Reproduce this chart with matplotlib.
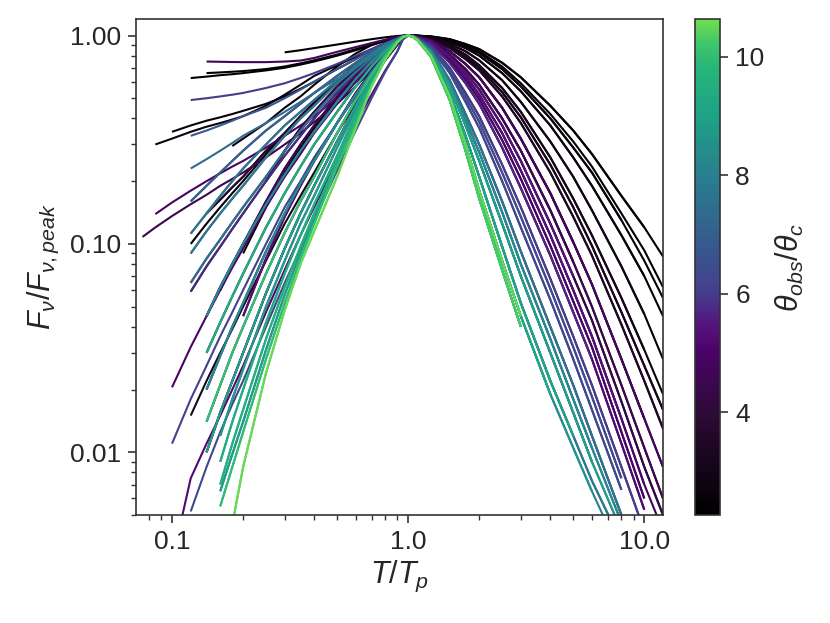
import numpy as np
import matplotlib
matplotlib.use('Agg')
import matplotlib.pyplot as plt
from matplotlib.colors import LinearSegmentedColormap, Normalize
from matplotlib.cm import ScalarMappable
from matplotlib.ticker import FixedLocator, NullFormatter, LogLocator

n = np.nan

rise_x = [0.075, 0.085, 0.1, 0.12, 0.14, 0.16, 0.18, 0.2, 0.25, 0.3, 0.35, 0.4, 0.5, 0.6, 0.7, 0.8, 0.9, 0.95, 1.0]

r_flat_black = [n, n, n, n, n, n, n, n, n, 0.83, 0.85, 0.87, 0.905, 0.935, 0.96, 0.98, 0.995, 0.999, 1]
r_flat_purple = [n, n, n, n, 0.75, 0.748, 0.746, 0.745, 0.745, 0.75, 0.758, 0.78, 0.835, 0.88, 0.92, 0.955, 0.985, 0.9964, 1]
r_black_a = [n, n, n, 0.625, 0.635, 0.645, 0.652, 0.66, 0.68, 0.70, 0.725, 0.75, 0.80, 0.85, 0.90, 0.94, 0.975, 0.994, 1]
r_black_b = [n, n, n, n, 0.66, 0.665, 0.67, 0.675, 0.69, 0.71, 0.735, 0.76, 0.81, 0.86, 0.905, 0.945, 0.978, 0.9947, 1]
r_bluepurple_flat = [n, n, n, 0.49, 0.50, 0.51, 0.52, 0.53, 0.56, 0.59, 0.625, 0.66, 0.73, 0.80, 0.86, 0.92, 0.97, 0.9928, 1]
r_dark_a = [n, 0.30, 0.32, 0.345, 0.365, 0.38, 0.395, 0.41, 0.46, 0.52, 0.58, 0.64, 0.72, 0.79, 0.86, 0.92, 0.97, 0.9928, 1]
r_dark_b = [n, n, 0.345, 0.37, 0.39, 0.405, 0.42, 0.435, 0.47, 0.51, 0.555, 0.60, 0.69, 0.77, 0.85, 0.91, 0.965, 0.9916, 1]
r_teal_mid = [n, n, n, 0.23, 0.255, 0.28, 0.305, 0.33, 0.38, 0.43, 0.48, 0.53, 0.62, 0.71, 0.79, 0.87, 0.94, 0.9855, 1]
r_bluish = [n, n, n, 0.33, 0.35, 0.37, 0.39, 0.41, 0.45, 0.50, 0.55, 0.60, 0.69, 0.77, 0.85, 0.91, 0.965, 0.9916, 1]
r_purple_long_a = [0.108, 0.12, 0.136, 0.155, 0.172, 0.19, 0.205, 0.22, 0.26, 0.30, 0.34, 0.385, 0.47, 0.57, 0.68, 0.80, 0.91, 0.978, 1]
r_purple_long_b = [n, 0.139, 0.158, 0.18, 0.20, 0.218, 0.235, 0.25, 0.29, 0.33, 0.37, 0.41, 0.50, 0.60, 0.70, 0.81, 0.91, 0.978, 1]
r_black_steep = [n, n, n, n, 0.14, 0.163, 0.187, 0.21, 0.28, 0.34, 0.41, 0.47, 0.60, 0.72, 0.82, 0.90, 0.96, 0.9904, 1]
r_black_late = [n, n, n, n, n, n, 0.295, 0.32, 0.38, 0.45, 0.51, 0.58, 0.71, 0.82, 0.90, 0.95, 0.985, 0.9964, 1]
r_black_band = [n, n, n, n, n, n, n, 0.09, 0.15, 0.22, 0.29, 0.36, 0.50, 0.64, 0.76, 0.87, 0.95, 0.988, 1]
r_black_mid = [n, n, n, 0.10, 0.125, 0.15, 0.175, 0.20, 0.27, 0.34, 0.41, 0.48, 0.61, 0.73, 0.83, 0.91, 0.965, 0.9916, 1]
r_dark_mid = [n, n, n, 0.059, 0.078, 0.097, 0.118, 0.14, 0.20, 0.265, 0.33, 0.40, 0.53, 0.66, 0.77, 0.87, 0.95, 0.988, 1]
r_dark_low = [n, n, n, 0.015, 0.022, 0.03, 0.039, 0.05, 0.083, 0.125, 0.17, 0.22, 0.34, 0.47, 0.61, 0.76, 0.90, 0.975, 1]
r_purple_low = [n, n, 0.0205, 0.032, 0.045, 0.06, 0.077, 0.095, 0.15, 0.21, 0.27, 0.34, 0.47, 0.60, 0.72, 0.84, 0.935, 0.984, 1]
r_blue_low = [n, n, 0.011, 0.018, 0.026, 0.036, 0.047, 0.06, 0.10, 0.15, 0.20, 0.26, 0.38, 0.51, 0.65, 0.78, 0.91, 0.978, 1]
r_purple_floor = [n, n, 0.003, 0.0075, 0.011, 0.015, 0.02, 0.026, 0.047, 0.075, 0.11, 0.15, 0.25, 0.38, 0.52, 0.68, 0.84, 0.959, 1]
r_blue_floor = [n, n, n, 0.0052, 0.0085, 0.0125, 0.017, 0.022, 0.04, 0.065, 0.095, 0.13, 0.225, 0.35, 0.50, 0.67, 0.84, 0.959, 1]
r_band_a = [n, n, n, n, n, 0.06, 0.08, 0.10, 0.16, 0.23, 0.30, 0.37, 0.51, 0.645, 0.77, 0.875, 0.955, 0.989, 1]
r_band_b = [n, n, n, n, n, n, n, 0.045, 0.085, 0.135, 0.19, 0.25, 0.38, 0.53, 0.675, 0.815, 0.935, 0.984, 1]
r_band_c = [n, n, n, n, n, n, n, n, 0.20, 0.28, 0.36, 0.43, 0.57, 0.69, 0.80, 0.89, 0.96, 0.9904, 1]
r_teal_a = [n, n, n, 0.065, 0.085, 0.105, 0.127, 0.15, 0.21, 0.28, 0.35, 0.42, 0.55, 0.67, 0.78, 0.88, 0.95, 0.988, 1]
r_teal_b = [n, n, n, 0.09, 0.115, 0.14, 0.165, 0.19, 0.26, 0.33, 0.40, 0.46, 0.59, 0.70, 0.80, 0.89, 0.955, 0.989, 1]
r_teal_c = [n, n, n, 0.16, 0.19, 0.22, 0.25, 0.28, 0.35, 0.41, 0.47, 0.53, 0.64, 0.74, 0.83, 0.91, 0.965, 0.9916, 1]
r_teal_h = [n, n, n, 0.112, 0.14, 0.17, 0.20, 0.23, 0.30, 0.37, 0.43, 0.49, 0.61, 0.72, 0.815, 0.90, 0.96, 0.9904, 1]
r_teal_l = [n, n, n, n, 0.045, 0.062, 0.08, 0.10, 0.155, 0.215, 0.28, 0.345, 0.48, 0.62, 0.75, 0.86, 0.95, 0.988, 1]
r_teal_d = [n, n, n, n, 0.03, 0.042, 0.056, 0.072, 0.12, 0.175, 0.235, 0.30, 0.43, 0.57, 0.71, 0.84, 0.945, 0.9867, 1]
r_teal_j = [n, n, n, n, 0.02, 0.029, 0.04, 0.052, 0.092, 0.14, 0.195, 0.25, 0.38, 0.52, 0.665, 0.81, 0.93, 0.983, 1]
r_teal_e = [n, n, n, n, 0.014, 0.021, 0.03, 0.04, 0.072, 0.113, 0.16, 0.21, 0.34, 0.49, 0.65, 0.80, 0.94, 0.9855, 1]
r_teal_m = [n, n, n, n, 0.01, 0.0155, 0.022, 0.03, 0.058, 0.095, 0.14, 0.19, 0.31, 0.46, 0.63, 0.79, 0.935, 0.984, 1]
r_teal_f = [n, n, n, n, n, 0.012, 0.018, 0.025, 0.05, 0.083, 0.125, 0.17, 0.29, 0.44, 0.61, 0.78, 0.935, 0.984, 1]
r_teal_k = [n, n, n, n, n, 0.009, 0.014, 0.02, 0.042, 0.072, 0.11, 0.155, 0.265, 0.42, 0.60, 0.775, 0.93, 0.983, 1]
r_teal_g = [n, n, n, n, n, 0.007, 0.011, 0.016, 0.035, 0.062, 0.097, 0.14, 0.25, 0.40, 0.59, 0.775, 0.93, 0.983, 1]
r_green_c = [n, n, n, n, n, 0.0065, 0.0098, 0.014, 0.031, 0.057, 0.091, 0.133, 0.245, 0.39, 0.585, 0.772, 0.93, 0.983, 1]
r_green_a = [n, n, n, n, n, 0.0055, 0.0085, 0.0125, 0.028, 0.052, 0.085, 0.125, 0.235, 0.38, 0.58, 0.77, 0.93, 0.983, 1]
r_green_b = [n, n, n, n, n, n, 0.0045, 0.0085, 0.024, 0.048, 0.08, 0.115, 0.21, 0.36, 0.57, 0.77, 0.93, 0.983, 1]

# decay side
decay_x = [1.0, 1.05, 1.1, 1.25, 1.5, 1.75, 2.0, 2.5, 3.0, 4.0, 5.0, 6.0, 8.0, 10.0, 12.0]

d_black_a = [1, 0.9995, 0.998, 0.99, 0.96, 0.91, 0.86, 0.74, 0.63, 0.46, 0.35, 0.27, 0.17, 0.12, 0.087]
d_black_b = [1, 0.9992, 0.997, 0.985, 0.95, 0.895, 0.84, 0.71, 0.59, 0.42, 0.31, 0.235, 0.14, 0.093, 0.062]
d_black_e = [1, 0.999, 0.996, 0.985, 0.945, 0.885, 0.825, 0.69, 0.57, 0.40, 0.29, 0.22, 0.13, 0.083, 0.055]
d_black_c = [1, 0.9987, 0.995, 0.98, 0.93, 0.87, 0.80, 0.66, 0.54, 0.37, 0.26, 0.19, 0.11, 0.07, 0.045]
d_black_d = [1, 0.9984, 0.994, 0.975, 0.91, 0.84, 0.76, 0.61, 0.48, 0.31, 0.21, 0.145, 0.078, 0.046, 0.028]
d_dark_a = [1, 0.9974, 0.99, 0.97, 0.89, 0.81, 0.72, 0.56, 0.43, 0.26, 0.165, 0.11, 0.055, 0.031, 0.019]
d_dark_d = [1, 0.9974, 0.99, 0.965, 0.88, 0.79, 0.70, 0.535, 0.405, 0.24, 0.15, 0.098, 0.047, 0.026, 0.016]
d_dark_b = [1, 0.9974, 0.99, 0.96, 0.87, 0.77, 0.68, 0.51, 0.38, 0.22, 0.135, 0.088, 0.041, 0.022, 0.013]
d_dark_c = [1, 0.996, 0.985, 0.95, 0.84, 0.73, 0.63, 0.45, 0.32, 0.175, 0.102, 0.064, 0.028, 0.0145, 0.0085]
d_purple_a = [1, 0.9947, 0.98, 0.94, 0.81, 0.69, 0.58, 0.40, 0.28, 0.145, 0.082, 0.05, 0.021, 0.0105, 0.006]
d_purple_d = [1, 0.9952, 0.982, 0.935, 0.795, 0.665, 0.55, 0.37, 0.25, 0.125, 0.07, 0.043, 0.0175, 0.0085, 0.005]
d_purple_b = [1, 0.9947, 0.98, 0.93, 0.78, 0.64, 0.52, 0.34, 0.225, 0.11, 0.06, 0.036, 0.0145, 0.007, 0.0042]
d_purple_e = [1, 0.9942, 0.978, 0.92, 0.76, 0.615, 0.495, 0.315, 0.205, 0.098, 0.053, 0.032, 0.0125, 0.006, n]
d_purple_c = [1, 0.9934, 0.975, 0.91, 0.74, 0.59, 0.47, 0.29, 0.185, 0.088, 0.047, 0.028, 0.011, 0.0053, n]
d_blue_a = [1, 0.992, 0.97, 0.89, 0.70, 0.53, 0.41, 0.24, 0.15, 0.068, 0.036, 0.021, 0.0085, 0.0042, n]
d_blue_d = [1, 0.9915, 0.968, 0.88, 0.68, 0.505, 0.385, 0.22, 0.135, 0.061, 0.032, 0.0185, 0.0075, n, n]
d_blue_b = [1, 0.9907, 0.965, 0.87, 0.66, 0.48, 0.36, 0.20, 0.12, 0.054, 0.028, 0.016, 0.0066, n, n]
d_blue_c = [1, 0.9894, 0.96, 0.85, 0.61, 0.42, 0.30, 0.16, 0.092, 0.04, 0.021, 0.012, 0.005, n, n]
d_teal_d = [1, 0.9888, 0.958, 0.84, 0.59, 0.395, 0.275, 0.142, 0.08, 0.035, 0.018, 0.0105, 0.0046, n, n]
d_teal_a = [1, 0.988, 0.955, 0.83, 0.57, 0.37, 0.25, 0.125, 0.07, 0.03, 0.0155, 0.009, 0.0042, n, n]
d_teal_b = [1, 0.9866, 0.95, 0.81, 0.53, 0.33, 0.21, 0.097, 0.052, 0.022, 0.012, 0.0073, 0.0037, n, n]
d_teal_c = [1, 0.9866, 0.95, 0.80, 0.51, 0.30, 0.18, 0.083, 0.045, 0.019, 0.0105, 0.0065, 0.0032, n, n]
d_green = [1, 0.9852, 0.945, 0.79, 0.49, 0.28, 0.165, 0.075, 0.04, n, n, n, n, n, n]

# one row per light curve: theta_obs/theta_c, rise, decay, last T/Tp
curve_theta = [2.30, 2.35, 2.40, 2.45, 2.50, 2.55, 2.60, 2.70, 2.80, 2.95,
               3.10, 3.30, 3.50, 3.70, 3.90, 4.10, 4.30, 4.50, 4.70, 4.85,
               5.00, 5.10, 5.20, 5.35, 5.50, 5.70, 6.00, 6.10, 6.30, 6.50,
               6.80, 7.00, 7.20, 7.40, 7.60, 7.80, 8.00, 8.20, 8.40, 8.60,
               8.80, 9.00, 9.20, 9.40, 9.60, 9.80, 10.00, 10.30, 10.55,
               2.42, 2.65, 3.20, 3.80, 4.20, 4.60, 4.90, 5.40, 5.80, 6.40,
               7.10, 7.70, 8.30, 8.90, 9.10, 9.50, 10.10]
curve_rise = [r_flat_black, r_black_a, r_black_b, r_black_steep, r_black_late, r_black_band, r_dark_b, r_band_c, r_dark_a, r_band_a,
              r_dark_mid, r_dark_low, r_band_b, r_teal_a, r_teal_j, r_teal_d, r_band_c, r_purple_long_a, r_flat_purple, r_purple_long_b,
              r_purple_low, r_teal_e, r_purple_floor, r_band_b, r_teal_b, r_teal_h, r_bluepurple_flat, r_blue_low, r_blue_floor, r_teal_j,
              r_bluish, r_teal_f, r_teal_c, r_teal_mid, r_teal_a, r_teal_h, r_teal_b, r_teal_d, r_teal_j, r_teal_e,
              r_teal_f, r_teal_k, r_teal_g, r_teal_k, r_teal_g, r_green_a, r_green_a, r_green_b, r_green_b,
              r_black_mid, r_teal_l, r_teal_m, r_black_steep, r_teal_l, r_band_a, r_teal_m, r_teal_c, r_dark_mid, r_teal_l,
              r_teal_m, r_green_c, r_teal_l, r_green_c, r_teal_m, r_teal_d, r_teal_e]
curve_decay = [d_black_a, d_black_b, d_black_e, d_black_c, d_black_d, d_dark_a, d_black_e, d_black_c, d_dark_b, d_black_d,
               d_dark_a, d_dark_c, d_dark_b, d_dark_c, d_purple_a, d_dark_c, d_purple_a, d_purple_a, d_purple_b, d_dark_c,
               d_purple_b, d_purple_c, d_purple_c, d_purple_b, d_blue_a, d_purple_c, d_blue_a, d_blue_b, d_blue_b, d_blue_c,
               d_blue_c, d_teal_a, d_teal_a, d_teal_b, d_blue_c, d_teal_b, d_teal_c, d_teal_a, d_teal_b, d_teal_c,
               d_teal_b, d_teal_a, d_teal_c, d_green, d_green, d_teal_c, d_green, d_green, d_teal_c,
               d_black_a, d_dark_d, d_dark_d, d_purple_d, d_purple_d, d_purple_e, d_purple_e, d_purple_d, d_blue_d, d_blue_d,
               d_teal_d, d_teal_d, d_teal_d, d_teal_c, d_teal_b, d_green, d_green]
curve_stop = [12, 12, 12, 12, 12, 12, 8, 10, 12, 10,
              10, 12, 12, 10, 12, 5, 5, 12, 12, 12,
              10, 10, 10, 8, 10, 6, 10, 8, 8, 8,
              8, 8, 6, 8, 8, 8, 8, 6, 5, 6,
              4, 8, 4, 3, 3, 3, 3, 3, 3,
              10, 12, 12, 12, 12, 10, 10, 5, 10, 8,
              8, 6, 8, 4, 5, 3, 3]

# colour scale, sampled from the colour bar
cbar_lo, cbar_hi = 2.27, 10.64
cmap_pos = [0.0, 0.2, 0.33, 0.38, 0.45, 0.6, 0.7, 0.8, 0.9, 0.95, 1.0]
cmap_col = ['#000000', '#2c0a35', '#4b0369', '#55137b', '#443f8d', '#31688e',
            '#27838e', '#1fa088', '#25b57a', '#3dc46c', '#70de4f']

plt.rcParams['font.family'] = ['Liberation Sans', 'DejaVu Sans']
plt.rcParams['mathtext.fontset'] = 'custom'
plt.rcParams['mathtext.rm'] = 'Liberation Sans'
plt.rcParams['mathtext.it'] = 'Liberation Sans:italic'
plt.rcParams['mathtext.fallback'] = 'stixsans'
plt.rcParams['text.color'] = '#262626'
plt.rcParams['axes.labelcolor'] = '#262626'
plt.rcParams['xtick.color'] = '#333333'
plt.rcParams['ytick.color'] = '#333333'
plt.rcParams['xtick.labelcolor'] = '#262626'
plt.rcParams['ytick.labelcolor'] = '#262626'

cmap = LinearSegmentedColormap.from_list('blackviridis', list(zip(cmap_pos, cmap_col)))
norm = Normalize(vmin=cbar_lo, vmax=cbar_hi)

fig = plt.figure(figsize=(8.3, 6.23), dpi=100)
ax = fig.add_axes([0.1639, 0.1734, 0.6349, 0.7961])
cax = fig.add_axes([0.8373, 0.1734, 0.0301, 0.7961])

xs = np.array(rise_x + decay_x[1:])
for i in np.argsort(curve_theta, kind='stable'):
    ys = np.array(curve_rise[i] + curve_decay[i][1:], dtype=float)
    keep = ~np.isnan(ys) & (xs <= curve_stop[i])
    ax.plot(xs[keep], ys[keep], color=cmap(norm(curve_theta[i])), lw=1.5,
            solid_capstyle='butt', solid_joinstyle='round')

ax.set_xscale('log')
ax.set_yscale('log')
ax.set_xlim(0.0704, 12.0)
ax.set_ylim(0.005, 1.2)

ax.xaxis.set_major_locator(FixedLocator([0.1, 1.0, 10.0]))
ax.set_xticklabels(['0.1', '1.0', '10.0'])
ax.yaxis.set_major_locator(FixedLocator([0.01, 0.1, 1.0]))
ax.set_yticklabels(['0.01', '0.10', '1.00'])
for a in (ax.xaxis, ax.yaxis):
    a.set_minor_locator(LogLocator(base=10, subs=np.arange(2, 10)))
    a.set_minor_formatter(NullFormatter())

ax.tick_params(which='major', length=6, width=1.2, labelsize=19, pad=5)
ax.tick_params(which='minor', length=3.6, width=1.0)
for s in ax.spines.values():
    s.set_color('#333333')
    s.set_linewidth(1.2)

ax.set_xlabel(r'$T/T_p$', fontsize=22, labelpad=3)
ax.set_ylabel(r'$F_\nu/F_{\nu,peak}$', fontsize=22, labelpad=6)

cb = fig.colorbar(ScalarMappable(norm=norm, cmap=cmap), cax=cax)
cb.set_ticks([4, 6, 8, 10])
cb.ax.tick_params(length=6, width=1.2, labelsize=19, pad=5)
cb.outline.set_edgecolor('#333333')
cb.outline.set_linewidth(1.2)
cb.set_label(r'$\theta_{obs}/\theta_c$', fontsize=22, labelpad=7)

fig.savefig('out.png', dpi=100)
